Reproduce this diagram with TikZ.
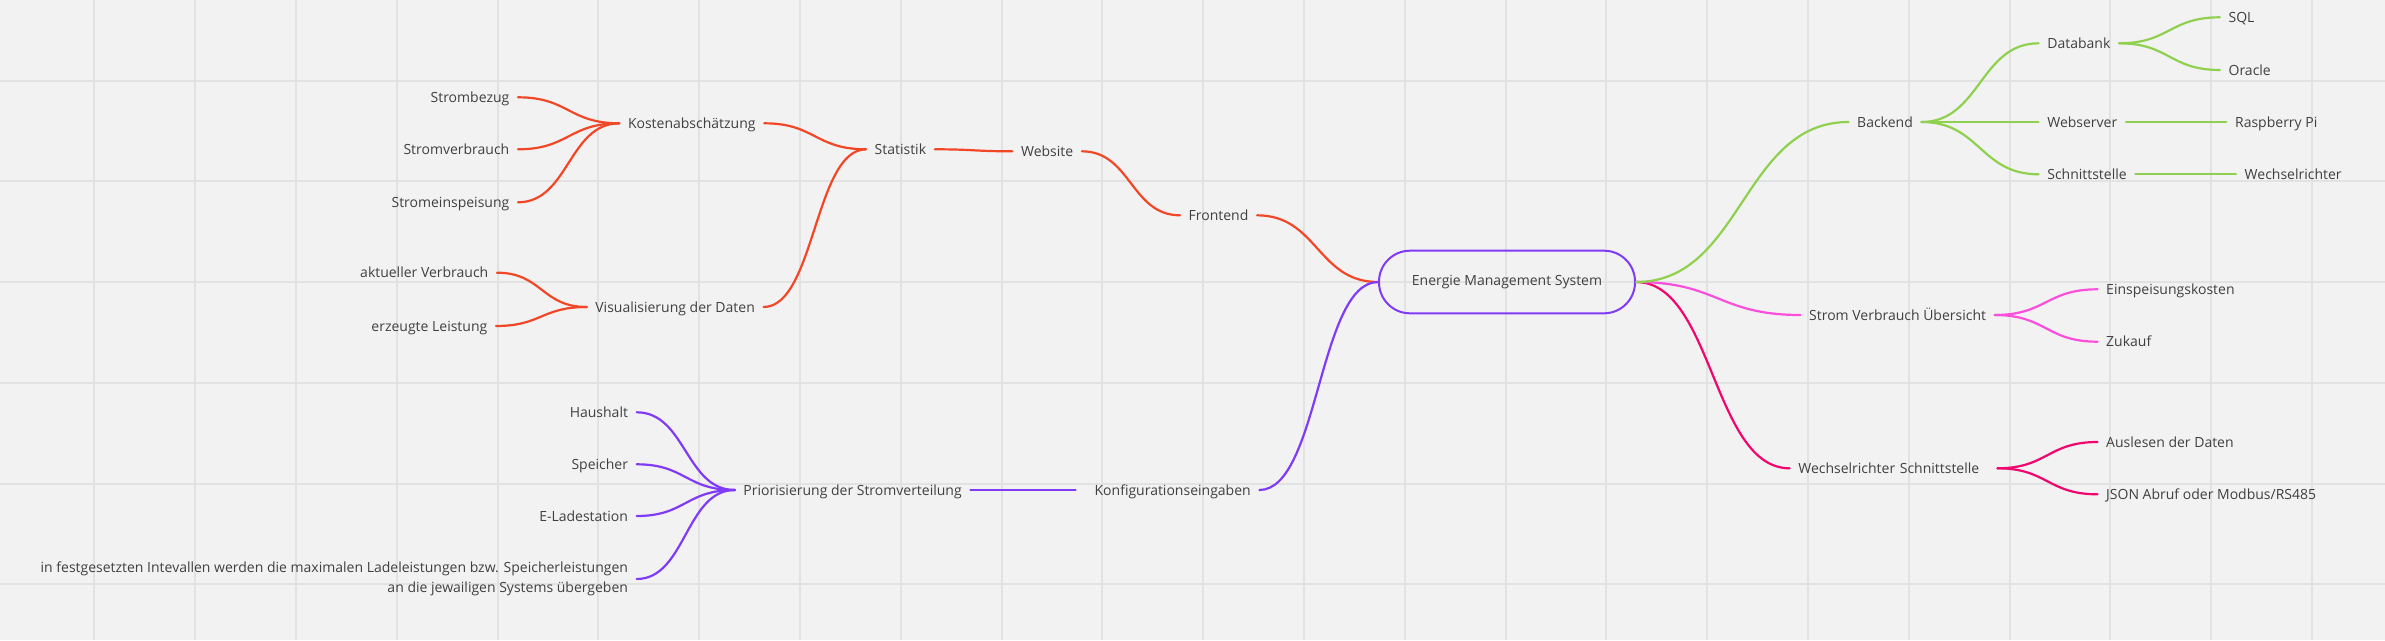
\documentclass[tikz,border=0pt]{standalone}
\usepackage{fontspec}
\setmainfont{Open Sans}
\usetikzlibrary{calc}
\definecolor{bg}{HTML}{F2F2F2}
\definecolor{gridc}{HTML}{E2E2E2}
\definecolor{txt}{HTML}{404040}
\definecolor{cred}{HTML}{F24726}
\definecolor{cviolet}{HTML}{7F3BF5}
\definecolor{cgreen}{HTML}{8FD14F}
\definecolor{cpink}{HTML}{FB4FDB}
\definecolor{ccrimson}{HTML}{F2056F}
\begin{document}
\begin{tikzpicture}[x=1pt,y=-1pt,
  lbl/.style={inner xsep=8.5pt, inner ysep=0pt, text height=12pt, text depth=2pt, text=txt, font=\fontsize{14}{17}\selectfont},
  multi/.style={inner xsep=8.5pt, inner ysep=0pt, text=txt, align=right, font=\fontsize{14}{20}\selectfont},
  mm/.style={line width=2.2pt, line cap=round, to path={.. controls ($(\tikztostart)!0.5!(\tikztostart -| \tikztotarget)$) and ($(\tikztotarget)!0.5!(\tikztotarget -| \tikztostart)$) .. (\tikztotarget)}},
  emsbox/.style={draw=cviolet, line width=2pt, rounded corners=31pt, minimum width=256pt, minimum height=62.6pt, inner sep=0pt, text=txt, font=\fontsize{14}{17}\selectfont},
  gridline/.style={draw=gridc, line width=2pt}
]
% background and grid
\fill[bg] (0,0) rectangle (2385,640);
\useasboundingbox (0,0) rectangle (2385,640);
\foreach \k in {0,...,22} {
  \draw[gridline] ({94.4+100.8*\k},0) -- ({94.4+100.8*\k},640);
}
\foreach \k in {0,...,5} {
  \draw[gridline] (0,{80.7+100.7*\k}) -- (2385,{80.7+100.7*\k});
}

% central node
\node[emsbox] (ems) at (1507,282) {Energie Management System};

% red branch
\node[lbl, anchor=east] (sb) at (518,97.3) {Strombezug};
\node[lbl, anchor=east] (sv) at (518,149.3) {Stromverbrauch};
\node[lbl, anchor=east] (se) at (518,202.3) {Stromeinspeisung};
\node[lbl, anchor=east] (av) at (497,272.7) {aktueller Verbrauch};
\node[lbl, anchor=east] (el) at (496,326) {erzeugte Leistung};
\node[lbl, anchor=west] (ka) at (619.3,123.3) {Kostenabschätzung};
\node[lbl, anchor=west] (vd) at (586.7,307) {Visualisierung der Daten};
\node[lbl, anchor=west] (st) at (866,149.3) {Statistik};
\node[lbl, anchor=west] (web) at (1012.4,151.3) {Website};
\node[lbl, anchor=west] (fe) at (1180,215.3) {Frontend};

% violet branch
\node[lbl, anchor=east] (hh) at (636.7,412.3) {Haushalt};
\node[lbl, anchor=east] (sp) at (636.7,464.3) {Speicher};
\node[lbl, anchor=east] (ela) at (636.7,516) {E-Ladestation};
\node[multi, anchor=east] (lt) at (636.7,579) {in festgesetzten Intevallen werden die maximalen Ladeleistungen bzw. Speicherleistungen\\an die jewailigen Systems übergeben};
\node[lbl, anchor=west] (pr) at (734.7,490) {Priorisierung der Stromverteilung};
\node[lbl, anchor=west, text width=166.5pt, align=right] (kf) at (1075.5,490) {Konfigurationseingaben};

% green branch
\node[lbl, anchor=west] (be) at (1848.5,122) {Backend};
\node[lbl, anchor=west] (db) at (2038.6,43.3) {Databank};
\node[lbl, anchor=west] (wsv) at (2038.6,122) {Webserver};
\node[lbl, anchor=west] (sst) at (2038.6,174.3) {Schnittstelle};
\node[lbl, anchor=west] (sql) at (2219.9,17.3) {SQL};
\node[lbl, anchor=west] (ora) at (2219.9,70) {Oracle};
\node[lbl, anchor=west] (rpi) at (2226.4,122) {Raspberry Pi};
\node[lbl, anchor=west] (wr) at (2236,174.3) {Wechselrichter};

% pink branch
\node[lbl, anchor=west] (svu) at (1800.5,315) {Strom Verbrauch Übersicht};
\node[lbl, anchor=west] (ek) at (2097.5,289.3) {Einspeisungskosten};
\node[lbl, anchor=west] (zk) at (2097.5,341.7) {Zukauf};

% crimson branch
\node[lbl, anchor=west, text width=190.4pt, align=left] (wrs) at (1789.6,468.3) {Wechselrichter Schnittstelle};
\node[lbl, anchor=west] (ad) at (2097.5,442) {Auslesen der Daten};
\node[lbl, anchor=west] (json) at (2097.5,494.3) {JSON Abruf oder Modbus/RS485};

% connectors: red
\draw[mm, cred] (sb.east) to (ka.west);
\draw[mm, cred] (sv.east) to (ka.west);
\draw[mm, cred] (se.east) to (ka.west);
\draw[mm, cred] (av.east) to (vd.west);
\draw[mm, cred] (el.east) to (vd.west);
\draw[mm, cred] (ka.east) to (st.west);
\draw[mm, cred] (vd.east) to (st.west);
\draw[mm, cred] (st.east) to (web.west);
\draw[mm, cred] (web.east) to (fe.west);
\draw[mm, cred] (fe.east) to (ems.west);

% connectors: violet
\draw[mm, cviolet] (hh.east) to (pr.west);
\draw[mm, cviolet] (sp.east) to (pr.west);
\draw[mm, cviolet] (ela.east) to (pr.west);
\draw[mm, cviolet] (lt.east) to (pr.west);
\draw[mm, cviolet] (pr.east) to (kf.west);
\draw[mm, cviolet] (kf.east) to (ems.west);

% connectors: crimson
\draw[mm, ccrimson] (ems.east) to (wrs.west);
\draw[mm, ccrimson] (wrs.east) to (ad.west);
\draw[mm, ccrimson] (wrs.east) to (json.west);

% connectors: pink
\draw[mm, cpink] (ems.east) to (svu.west);
\draw[mm, cpink] (svu.east) to (ek.west);
\draw[mm, cpink] (svu.east) to (zk.west);

% connectors: green
\draw[mm, cgreen] (ems.east) to (be.west);
\draw[mm, cgreen] (be.east) to (db.west);
\draw[mm, cgreen] (be.east) to (wsv.west);
\draw[mm, cgreen] (be.east) to (sst.west);
\draw[mm, cgreen] (db.east) to (sql.west);
\draw[mm, cgreen] (db.east) to (ora.west);
\draw[mm, cgreen] (wsv.east) to (rpi.west);
\draw[mm, cgreen] (sst.east) to (wr.west);
\end{tikzpicture}
\end{document}
